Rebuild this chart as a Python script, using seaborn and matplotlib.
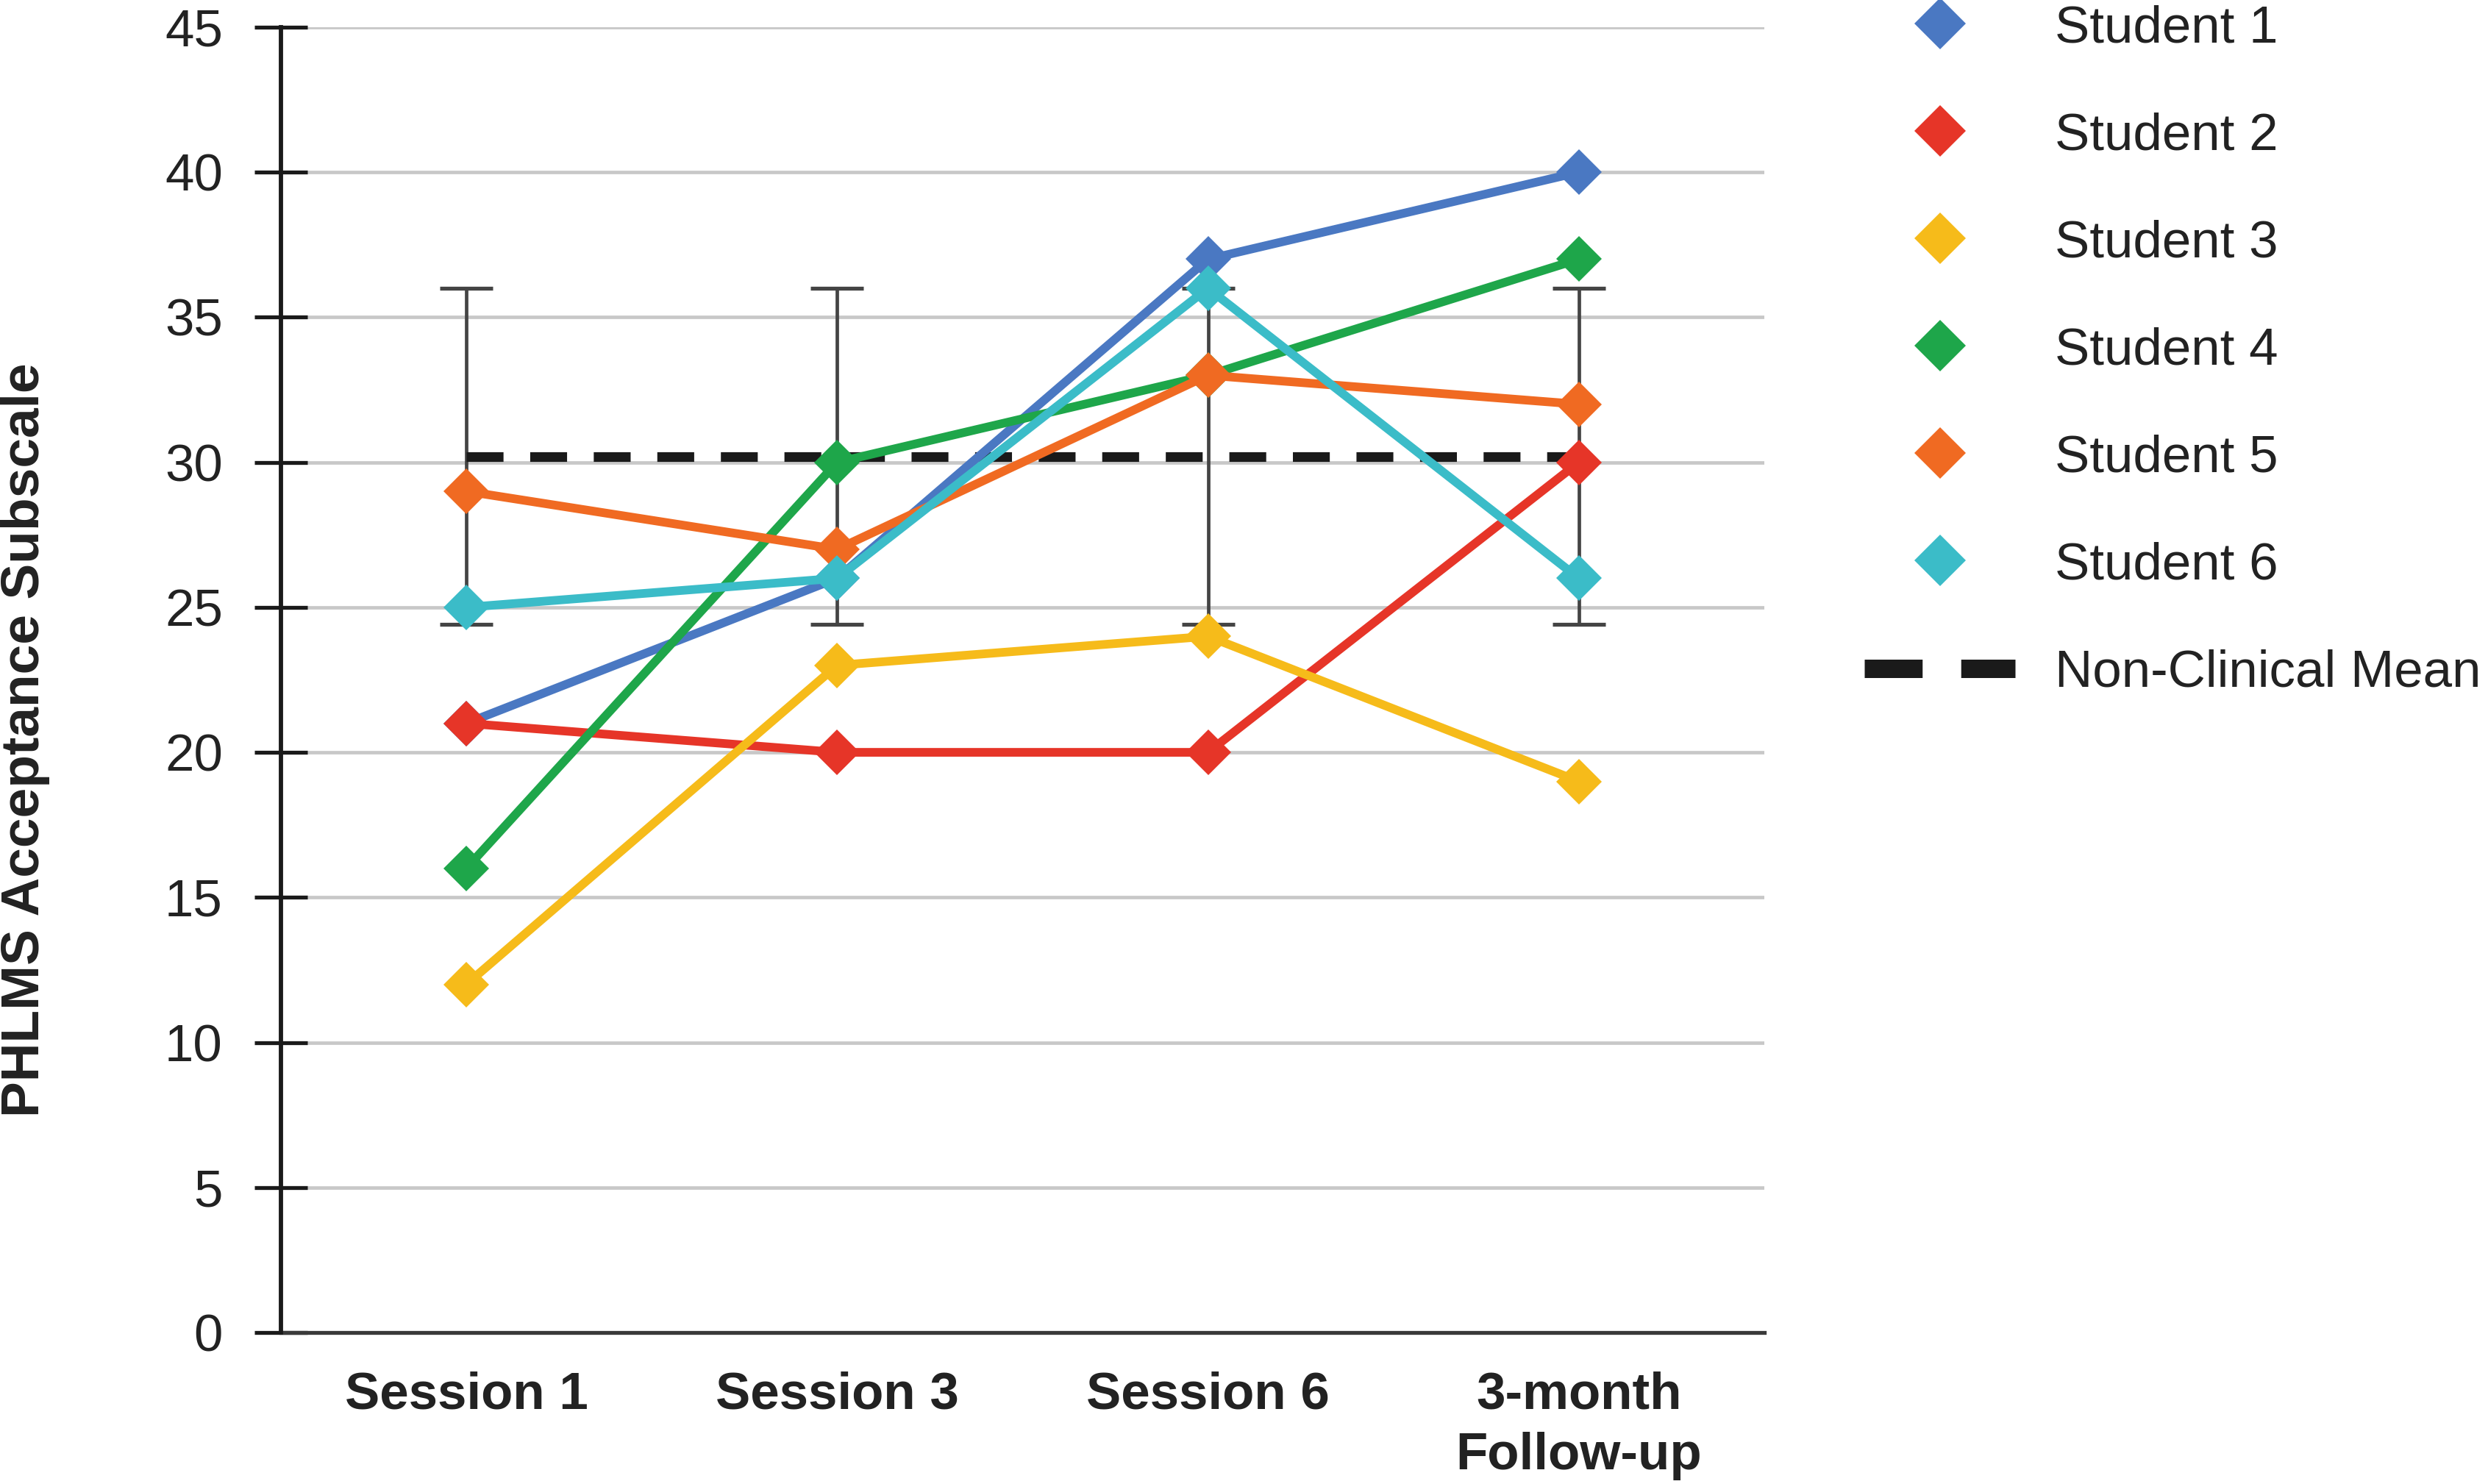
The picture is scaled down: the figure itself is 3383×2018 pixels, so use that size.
import matplotlib
matplotlib.use("Agg")
import matplotlib.pyplot as plt
from matplotlib.lines import Line2D
import seaborn as sns
import pandas as pd

# ---- data ----
sessions = ["Session 1", "Session 3", "Session 6", "3-month\nFollow-up"]
students = ["Student 1", "Student 2", "Student 3", "Student 4", "Student 5", "Student 6"]
student1 = [21, 26, 37, 40]
student2 = [21, 20, 20, 30]
student3 = [12, 23, 24, 19]
student4 = [16, 30, 33, 37]
student5 = [29, 27, 33, 32]
student6 = [25, 26, 36, 26]
nonclinical_mean = 30.2
nonclinical_sd = 5.8
y_ticks = [0, 5, 10, 15, 20, 25, 30, 35, 40, 45]
colors = ["#4a78c2", "#e63528", "#f6bb1a", "#1ea64a", "#f06a22", "#3bbcc8"]

series = [student1, student2, student3, student4, student5, student6]
df = pd.DataFrame({
    "Session": sessions * len(students),
    "Score": [v for s in series for v in s],
    "Student": [st for st in students for _ in sessions],
})

sns.set_theme(style="white")
plt.rcParams["font.family"] = ["Liberation Sans", "DejaVu Sans"]

fig = plt.figure(figsize=(33.83, 20.18), dpi=100)
ax = fig.add_axes([0.1129, 0.1021, 0.5962, 0.8796])

# grid
ax.set_axisbelow(True)
ax.yaxis.grid(True, color="#c8c8c8", linewidth=3.4, zorder=0)
ax.xaxis.grid(False)

# student lines
for i, st in enumerate(students):
    sub = df[df["Student"] == st]
    sns.lineplot(data=sub, x="Session", y="Score", ax=ax, color=colors[i],
                 marker="D", markersize=32, markeredgewidth=0, linewidth=8.5,
                 sort=False, zorder=10 + i, legend=False)

# error bars (non-clinical mean +/- sd)
ax.errorbar(sessions, [nonclinical_mean] * len(sessions),
            yerr=[nonclinical_sd] * len(sessions), fmt="none",
            ecolor="#444444", elinewidth=3.4, capsize=26, capthick=3.8, zorder=5)

# non-clinical mean dashed line
mean_line, = ax.plot(sessions, [nonclinical_mean] * len(sessions), color="#1a1a1a",
                     linewidth=9.5, zorder=6)
mean_line.set_dashes((3.8, 2.75))
mean_line.set_dash_capstyle("butt")

ax.set_xlim(-0.5, len(sessions) - 0.5)
ax.set_ylim(0, 45)
ax.set_yticks(y_ticks)
ax.set_xlabel("")
ax.set_ylabel("")

for side in ["top", "right"]:
    ax.spines[side].set_visible(False)
ax.spines["left"].set_color("#1a1a1a")
ax.spines["left"].set_linewidth(4.2)
ax.spines["bottom"].set_color("#3a3a3a")
ax.spines["bottom"].set_linewidth(3.8)
ax.spines["left"].set_zorder(20)

ax.tick_params(axis="y", direction="inout", length=52, width=3.8, color="#1a1a1a",
               pad=31, labelsize=51, labelcolor="#222222", left=True)
ax.tick_params(axis="x", length=0, pad=38, labelsize=51, labelcolor="#222222")
for lab in ax.get_xticklabels():
    lab.set_fontweight("bold")
    lab.set_linespacing(1.32)

fig.text(34 / 3383, 1 - 1006 / 2018, "PHLMS Acceptance Subscale", rotation=90,
         ha="center", va="center", fontsize=52.7, fontweight="bold", color="#222222")

# legend
handles = [Line2D([0], [0], marker="D", color=c, linestyle="none",
                  markersize=36, markeredgewidth=0) for c in colors]
mean_handle = Line2D([0], [0], color="#1a1a1a", linewidth=18)
mean_handle.set_dashes((3.15, 2.1))
mean_handle.set_dash_capstyle("butt")
handles.append(mean_handle)
labels = students + ["Non-Clinical Mean"]
leg = fig.legend(handles, labels, loc="upper left",
                 bbox_to_anchor=(2535 / 3383, 0.997), frameon=False,
                 fontsize=51, handlelength=2.9, handletextpad=0.76,
                 labelspacing=1.13, borderpad=0, borderaxespad=0)
for t in leg.get_texts():
    t.set_color("#222222")

fig.savefig("out.png", dpi=100)
